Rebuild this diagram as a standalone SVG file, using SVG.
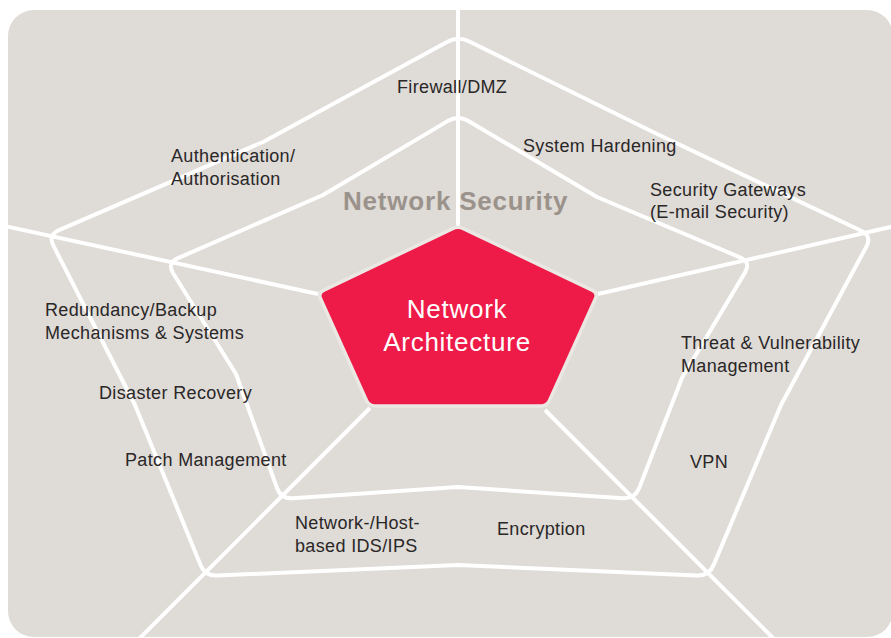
<svg xmlns="http://www.w3.org/2000/svg" width="891" height="638" viewBox="0 0 891 638">
  <defs>
    <clipPath id="panelClip">
      <rect x="8" y="10" width="885" height="627" rx="26" ry="26"/>
    </clipPath>
    <style>
      .web { fill: none; stroke: #ffffff; stroke-width: 4; stroke-linejoin: round; stroke-linecap: butt; }
      .lbl { font-family: "Liberation Sans", Arial, sans-serif; font-size: 18px; letter-spacing: 0.35px; fill: #2a2727; }
      .core { fill: #ee1a48; stroke: #ebe7e3; stroke-width: 3.5; stroke-linejoin: round; }
      .coreText { font-family: "Liberation Sans", Arial, sans-serif; font-size: 26px; letter-spacing: 0.75px; fill: #ffffff; text-anchor: middle; }
      .ring { font-family: "Liberation Sans", Arial, sans-serif; font-size: 26px; font-weight: bold; letter-spacing: 0.8px; fill: #9b938b; }
    </style>
  </defs>

  <rect id="panel" x="8" y="10" width="885" height="627" rx="26" ry="26" fill="#dfdbd7"/>

  <g id="connectors" clip-path="url(#panelClip)">
    <!-- spokes -->
    <line class="web" x1="458" y1="5" x2="458" y2="228"/>
    <line class="web" x1="0" y1="225" x2="318" y2="294"/>
    <line class="web" x1="598" y1="294" x2="895" y2="226"/>
    <line class="web" x1="370" y1="408" x2="135" y2="643"/>
    <line class="web" x1="545" y1="410" x2="778" y2="643"/>
    <!-- outer web -->
    <path class="web" d="M 447.5,41.7 Q 458,36 468.8,41.3 L 655,133 L 861.2,230.8 Q 872,236 866.4,246.6 L 781,405 L 713.7,564.9 Q 709,576 697,575.5 L 458,565 L 217,575.5 Q 205,576 200.5,564.9 L 135,405 L 53.4,245.7 Q 48,235 59,230.2 L 263,142 Z"/>
    <!-- inner web -->
    <path class="web" d="M 447.6,121.1 Q 458,115 468.4,121 L 597,197 L 740,257.3 Q 751,262 745.1,272.4 L 682,378 L 639.3,487.8 Q 635,499 623,498.2 L 458,487 L 293,498.2 Q 281,499 276.9,487.7 L 236,374 L 173.1,273.3 Q 167,263 178,258.1 L 323,195 Z"/>
  </g>

  <g id="network-security">
    <text class="ring" x="343" y="210">Network Security</text>
  </g>

  <g id="network-architecture">
    <path class="core" d="M 452.6,228.6 Q 458,226 463.4,228.6 L 592.6,290.4 Q 598,293 595.5,298.5 L 549.5,400.5 Q 547,406 541,406 L 375,406 Q 369,406 366.5,400.5 L 320.5,298.5 Q 318,293 323.4,290.4 Z"/>
    <text class="coreText" x="457" y="318">Network</text>
    <text class="coreText" x="457" y="351">Architecture</text>
  </g>

  <g id="firewall-dmz"><text class="lbl" x="397" y="93">Firewall/DMZ</text></g>
  <g id="system-hardening"><text class="lbl" x="523" y="152">System Hardening</text></g>
  <g id="security-gateways">
    <text class="lbl" x="650" y="195.5">Security Gateways</text>
    <text class="lbl" x="650" y="218">(E-mail Security)</text>
  </g>
  <g id="authentication">
    <text class="lbl" x="171" y="162">Authentication/</text>
    <text class="lbl" x="171" y="184.5">Authorisation</text>
  </g>
  <g id="redundancy">
    <text class="lbl" x="45" y="316">Redundancy/Backup</text>
    <text class="lbl" x="45" y="338.5">Mechanisms &amp; Systems</text>
  </g>
  <g id="disaster-recovery"><text class="lbl" x="99" y="398.5">Disaster Recovery</text></g>
  <g id="patch-management"><text class="lbl" x="125" y="466">Patch Management</text></g>
  <g id="threat-vulnerability">
    <text class="lbl" x="681" y="348.5">Threat &amp; Vulnerability</text>
    <text class="lbl" x="681" y="372">Management</text>
  </g>
  <g id="vpn"><text class="lbl" x="690" y="468">VPN</text></g>
  <g id="ids-ips">
    <text class="lbl" x="295" y="529">Network-/Host-</text>
    <text class="lbl" x="295" y="551.5">based IDS/IPS</text>
  </g>
  <g id="encryption"><text class="lbl" x="497" y="535">Encryption</text></g>
</svg>
